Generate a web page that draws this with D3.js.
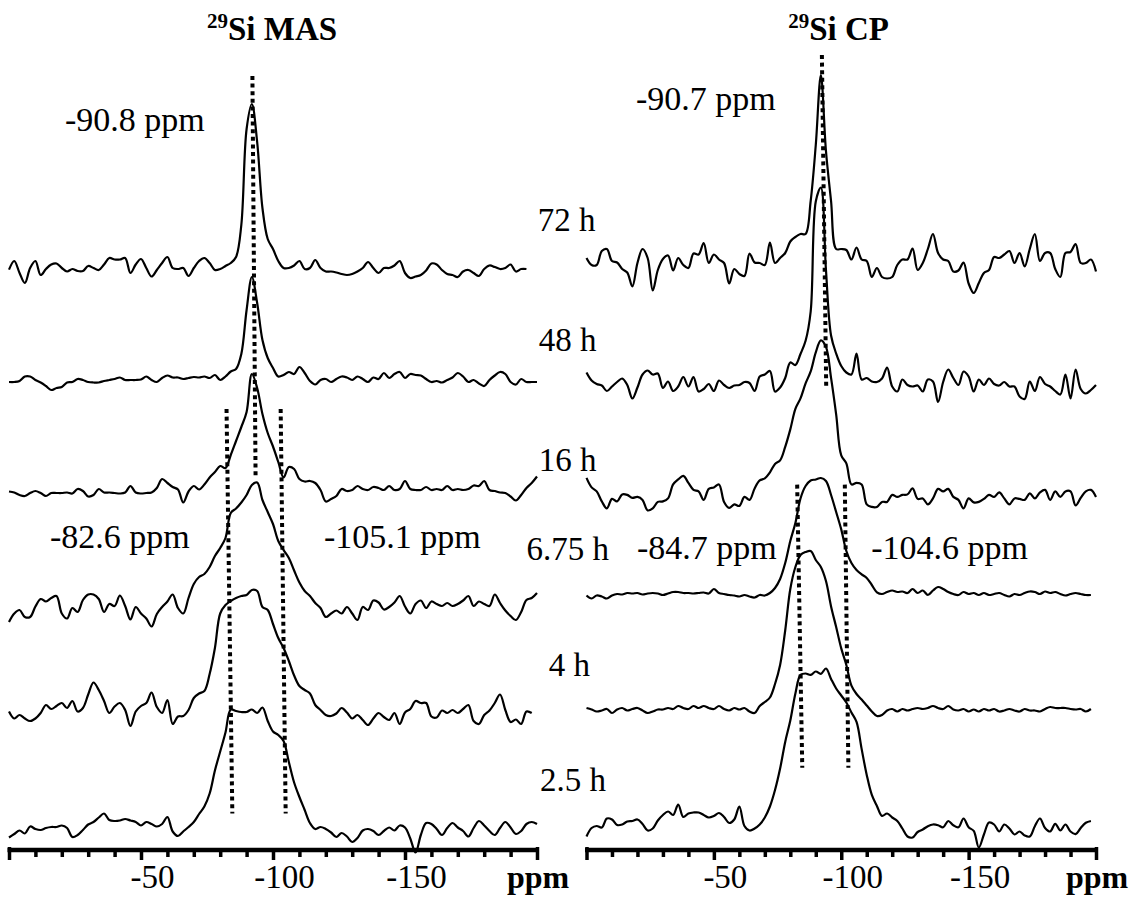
<!DOCTYPE html>
<html>
<head>
<meta charset="utf-8">
<script src="https://cdn.jsdelivr.net/npm/d3@7"></script>
<style>
  body { margin: 0; background: #fff; }
  svg { display: block; }
  text { font-family: "Liberation Serif", "Times New Roman", serif; fill: #000; }
</style>
</head>
<body>
<svg width="1144" height="897"></svg>
<script>
  // DATA
  var times = ["72 h", "48 h", "16 h", "6.75 h", "4 h", "2.5 h"];
  var ppmStep = -2; // every spectrum starts at 0 ppm, one point each 2 ppm

  // 29Si MAS spectra (intensity above each trace's own baseline)
  var mas72 = [-1.7,7,-5,-15,0,7,-7,-1,3.5,4.5, 0,-3.5,-1,-3,-3,2,0,-2,3.5,10, 8.5,8.5,10,-5,3.5,9,0,-8.5,-2,5,
    11,0,-1,0,-8,0,7,10,5,-2, -1,2,5,11,43,139,164,126,60,29, 19,7,0,0,2.5,7,-1,0,8,0,
    -3.5,-3.5,-4.5,-6,-7,-6,-3.5,0,6,0, -5,0,0,2.5,7,-5,-10,-8.5,-7,-2.5, 4.5,3.5,-2,-6,-7,-9,-3.5,-2,-5,-8,
    -1,2.5,1,-1,0,3.5,-3.5,-1,-1];
  var mas48 = [-2,-2,-1,3.5,3.5,0,-2.5,-6,-10,-8, -7,-2.5,-2,1,0,-2,-2.5,-2.5,-1,0, 1,2.5,0,0,0,0.5,3.5,0,-2,2,
    4.5,2.5,2.5,1,2,3,2.5,3.5,2,5, 0,3.5,8.5,11,26,70,103,77,40,22, 12,3.5,5,8,6,13,7,-1,-4.5,0,
    1,-2,1,3.5,2.5,0,3.5,1,-2,2.5, 1,7,2,6,8,2,6,5,4.5,1, -2,-1,-2.5,0,2.5,7,3.5,-2,0,-3.5,
    -6,0,4.5,8,6,-2,-4.5,1,-2,-2,-2];
  var mas16 = [1.5,0.5,-2,-3,0,2,0,-3,0,0, 0,0.5,-0.5,4,2,-3.5,-2,4,0.5,0.5, 0,-0.5,0.5,7,0.5,-0.5,0,0.5,5,14,
    10,6,3.5,-9.5,1.5,7,3.5,8.5,15.5,21, 27,25,38,52,66,81,119,105,79,60, 46.5,31,15.5,26,24,14,11.5,12,10,3,
    -8.5,-6,-3,4,2,3,7,4,3,6, 5,3,7,3,4,12,4,3,3,6, 3,4,3,7,3,4,3,4,7.5,7,
    12,3,2,0.5,0,-3.5,-7.5,-2,5,10,16.5];
  var mas675 = [-12,-3.5,0,-7,-7,3.5,11,8.5,12,14, -3.5,-8.5,2,-2,10,15.5,15.5,11,-2,6, 4,14.5,4,-9.5,3,-3.5,-8.5,-16.5,-4,3,
    8.5,15.5,2,-3.5,12,26,33,36,43,54, 62,72,97,101.5,107.5,115,125,127.5,110,98, 86,69,60,52,39.5,27.5,19,14,7,2,
    -7,-3.5,-0.5,-3.5,3,-3.5,-10,3,0,9.5, 7.5,0.5,3,7.5,14,3.5,-3.5,6,9.5,2, 8.5,6,4,7,4,6,9.5,14,4,8.5,
    6,4,15.5,7,-0.5,-6,-10,-2,10,12,17];
  var mas4 = [3.5,-3.5,0,-3.5,-6,-3.5,2,10,6,9, 12,7,14,3.5,7,20.5,32.5,25,14,2, 8.5,12,5,-11,3.5,9,12,22.5,8,2,
    15,-9,-1.5,-1,5,17,21.5,24,41,67, 101.5,110,114,117,119,120,125,124,108,105, 91,77,67,54,39.5,29,25,21.5,10,5,
    0,-1,1.5,7,2.5,-3.5,0,-5,-10,-3.5, 2,-2,-5,2,-9,2.5,6,14,12,12, -1.5,-2.5,4.5,2,5,2,6,10,-6,-9,
    0,4.5,12,20.5,5,-7,-4.5,-9,3.5,2];
  var mas25 = [-7.5,-4,-0.5,-3.5,3.5,1,0,2,3,3, 4.5,2,-7,-5,0,5.5,8,12.5,16.5,10, 9,9.5,11,9.5,8,4.5,8,6,3.5,6,
    13,-1.5,-6,-1.5,3,8,16,23.5,36.5,59.5, 78.5,97.5,120.5,119,118,118,120.5,117,122.5,109, 98.5,95,89,68,47.5,33,20,7,1,3,
    1,-2.5,-7,-3,-6.5,-12,-8,-0.5,1,-1, -5,-1,2.5,-0.5,4.5,2.5,-8.5,-22.5,-5,7, 6,1,-5,2,7,2.5,-1,-6.5,2,9,
    4.5,-1,-5,2,8,2.5,-4,-1,6,8,6];

  // 29Si CP spectra
  var cp72 = [5,-2,-2,12,14,2,0.5,-6,-9.5,-23.5, 0,14,5,-27.5,-7,4,7.5,-7.5,5,-2, -5,9.5,8.5,20,0,8.5,3.5,0,-20.5,-6,
    -11,-13,9.5,0.5,0,-2,20.5,0,5,10, 21.5,26,29,29,62,118,188,112,62,14, 14,13,3.5,15.5,3.5,2,-14,-5,-14,-15.5,
    -14,-2,3.5,3.5,14.5,-7,0,14,29,10, 3.5,2,-8.5,-7.5,0.5,-20.5,-30,-20,-10,-7, 6,5,8.5,12,0,10,-3.5,14,29,2,
    10,10,-6,-14,10,11,19,0,0,3.5,-8.5];
  var cp48 = [14,6,2.5,1,-4.5,0,4.5,8,1.5,-12, -1,12,16,12,13,-1.5,5,-4.5,0,9.5, 0,9.5,-5,-2.5,2.5,-4.5,6,1.5,-1.5,1,
    1.5,4.5,3.5,-4.5,10,12,15.5,-5,-1,8.5, 24,21.5,32.5,45.7,75,185,199,116.5,51,33, 20.5,14,12,33,7,8.5,5,4.5,8,19,
    0,-5,7,1.5,0,1,-5,7,5,-15.5, 4.5,17,8.5,1.5,15,10,-5,7,1.5,8, 2.5,1,4.5,0,0,-10,-12.5,5,-4.5,9.5,
    2.5,0,-4.5,-8,12,-12,17,-2.5,-7,-3.5,1.5];
  var cp16 = [20.5,11,7,-3,-10,-0.5,-3,4,3.5,0.5, 1.5,-1.5,-12,-10,-3.5,-3,0,14,19,22.5, 15.5,8.5,7,-1.5,9.5,11,14,-3.5,-9.5,-6,
    -7.5,1.5,-1.5,10,18,20,26,34.5,38,51.5, 69,89.5,100,115,127,146,158,151.5,120.5,84, 43,35,14,15.5,14,-6,-8.5,-8.5,-3.5,-3.5,
    3.5,1.5,3.5,4,10,-0.5,0,-6,0,9.5, 7,9.5,1.5,-1.5,-10,0,-4,-3.5,-0.5,3.5, 1.5,6,0,-6,0,-0.5,-1.5,5,0,6,
    8.5,-1.5,7,1.5,7,7,-7,0.5,7,8.5,1.5];
  var cp675 = [-0.5,-3.5,-0.5,-1.5,-3.5,-0.5,1,0.5,2,1.5, 2,0.5,1.5,2,1.5,0,1.5,3,3,2, 2,1.5,2,2.5,1.5,6,2,1,0,-0.5,
    -1.5,0,-1.5,-2.5,0,-0.5,2,7,16,32, 54,72,96.5,109,114.5,115.5,117,114,100,83, 65.6,44,32,25,20.6,17,10,2.7,1,3,
    4.5,3,3.5,2,6,2,4.5,0,4.5,8, 6,3,1,0,3,1,2,0,2,0, 1,2,0,-1.5,1,0,2,3.5,3,1,
    3.5,2,3,1,-0.5,1,2,1,0,0];
  var cp4 = [1,-0.5,-2.5,-1.5,0,-4,-0.5,1,-1.5,0, 1,-1.5,-4,-2.5,-0.5,-0.5,1,0,3,1, 0,3,1,3,1,0,3,0,-1.5,1,
    -0.5,1,-2.5,-4,3,7,11.5,25,44,78.5, 120,142,154,157,158,149,142,128,102.6,82, 60.6,44,23.4,15,9.5,3.5,-2.5,-7,-6,-1.5,
    0,-2.5,0,-1.5,0,1,0,1,3,1, 0,3,-0.5,-1.5,0,-2.5,-0.5,-2.5,0,-1.5, 0,-2.5,-1.5,0,-1.5,-2.5,0,-1.5,-1.5,-2.5,
    0,2,1,1,1,0,-0.5,0,-2.5,0];
  var cp25 = [-12,-3.5,-1.5,-3,6,5,-0.5,0,3,3.5, 5,0.5,-6,-4,4,9.5,13,9.5,20,7.5, 11,12,12,9.5,7,8.5,11.5,7.5,1.5,5,
    18,-1.5,-6,-4,0,7,18,34.5,56,82.6, 104,131,149.6,151,149.6,153,150.6,156,145.6,136, 129,122,112,102.6,75.6,49.6,29.6,18.6,8.6,11,
    7,3.5,-4,-12,-13,-7.5,-5,-1.7,0,-0.7, -2.8,3.5,-0.7,-2.8,6,-2.8,-6.4,-23,-10,2, 0,-7,0,-4,-10,-7,-11,-12,-1.7,6,
    -3.5,-7,0.7,-6,0,-7,-9.6,-3.5,1.7,3.5];

  // baseline of each trace, counted up from the ppm axis
  var masOffsets = [582, 470, 357, 240, 135, 20];
  var cpOffsets = [587, 463.5, 351.6, 255, 141, 25.5];

  // dotted guide lines: ppm at top / bottom, height at top / bottom
  var masGuidePpm = [[-92.2, -93.4], [-82.4, -84.6], [-102.9, -104.8]];
  var masGuideSpan = [[774, 373], [441, 36.5], [441, 36.5]];
  var cpGuidePpm = [[-92.4, -94.1], [-82.7, -84.7], [-101.4, -102.8]];
  var cpGuideSpan = [[795, 462], [365.4, 82.2], [365.4, 82.2]];

  var masNotes = ["-90.8 ppm", "-82.6 ppm", "-105.1 ppm"];
  var masNotePos = [[-21.2, 719], [-15.5, 302], [-119.3, 302]];
  var cpNotes = ["-90.7 ppm", "-84.7 ppm", "-104.6 ppm"];
  var cpNotePos = [[-19.4, 740], [-19.8, 291.4], [-111.8, 291.4]];

  // time labels sit in the gap, right aligned on the CP scale
  var timePpm = [-3.5, -3.9, -3.9, -8.8, -1.4, -7.7];
  var timeLevel = [619.4, 499, 379, 290, 174, 59];

  var tickValues = d3.range(0, -201, -10);
  var tickLabels = [-50, -100, -150];

  // SETUP
  var svg = d3.select("svg"),
    axisY = 850;

  var y = d3.scaleLinear().domain([0, 850]).range([axisY, 0]);

  var panels = [
    { name: "MAS", range: [9, 537], spectra: [mas72, mas48, mas16, mas675, mas4, mas25], offsets: masOffsets,
      guidePpm: masGuidePpm, guideSpan: masGuideSpan, notes: masNotes, notePos: masNotePos, titlePpm: -75 },
    { name: "CP", range: [586.5, 1096], spectra: [cp72, cp48, cp16, cp675, cp4, cp25], offsets: cpOffsets,
      guidePpm: cpGuidePpm, guideSpan: cpGuideSpan, notes: cpNotes, notePos: cpNotePos, titlePpm: -79.2 }
  ];

  panels.forEach(function (p) {
    var x = d3.scaleLinear().domain([0, -200]).range(p.range);
    p.x = x;
    var g = svg.append("g").attr("class", "panel");

    // spectra
    p.spectra.forEach(function (s, i) {
      var line = d3.line()
        .curve(d3.curveCatmullRom.alpha(0.5))
        .x(function (d, j) { return x(j * ppmStep); })
        .y(function (d) { return y(p.offsets[i] + d); });
      g.append("path")
        .datum(s)
        .attr("fill", "none")
        .attr("stroke", "#000")
        .attr("stroke-width", 2.2)
        .attr("stroke-linejoin", "round")
        .attr("d", line);
    });

    // dotted guides
    g.selectAll(".guide")
      .data(p.guidePpm)
      .enter().append("line")
      .attr("class", "guide")
      .attr("x1", function (d) { return x(d[0]); })
      .attr("x2", function (d) { return x(d[1]); })
      .attr("y1", function (d, i) { return y(p.guideSpan[i][0]); })
      .attr("y2", function (d, i) { return y(p.guideSpan[i][1]); })
      .attr("stroke", "#000")
      .attr("stroke-width", 4)
      .attr("stroke-dasharray", "4,3.6");

    g.selectAll(".note")
      .data(p.notes)
      .enter().append("text")
      .attr("class", "note")
      .attr("x", function (d, i) { return x(p.notePos[i][0]); })
      .attr("y", function (d, i) { return y(p.notePos[i][1]); })
      .attr("font-size", 34)
      .text(function (d) { return d; });

    // title with superscript
    var t = g.append("text")
      .attr("x", x(p.titlePpm))
      .attr("y", y(810))
      .attr("font-weight", "bold")
      .attr("font-size", 33);
    t.append("tspan").attr("font-size", 21).attr("dy", -12).text("29");
    t.append("tspan").attr("dy", 12).text("Si " + p.name);

    // axis
    var ax = g.append("g")
      .attr("class", "axis")
      .attr("transform", "translate(0," + axisY + ")")
      .call(d3.axisBottom(x)
        .tickValues(tickValues)
        .tickSizeOuter(0)
        .tickFormat(function (d) { return tickLabels.indexOf(d) >= 0 ? d : ""; }));

    ax.select(".domain")
      .attr("stroke", "#000")
      .attr("stroke-width", 4.5)
      .attr("d", "M" + (p.range[0] - 1.5) + ",0H" + (p.range[1] + 1.5));
    ax.selectAll(".tick line")
      .attr("stroke", "#000")
      .attr("stroke-width", 3.5)
      .attr("y1", function (d) { return (d === 0 || d === -200) ? -3 : 0; })
      .attr("y2", function (d) { return (d % 50 === 0) ? 10 : 7; });
    ax.selectAll(".tick text")
      .attr("fill", "#000")
      .attr("font-family", "Liberation Serif, Times New Roman, serif")
      .attr("font-size", 33)
      .attr("dx", 11)
      .attr("dy", 0)
      .attr("y", 38);

    g.append("text")
      .attr("x", p.range[1] - 30)
      .attr("y", axisY + 38)
      .attr("font-weight", "bold")
      .attr("font-size", 32)
      .text("ppm");
  });

  // time labels
  svg.selectAll(".time")
    .data(times)
    .enter().append("text")
    .attr("class", "time")
    .attr("text-anchor", "end")
    .attr("x", function (d, i) { return panels[1].x(timePpm[i]); })
    .attr("y", function (d, i) { return y(timeLevel[i]); })
    .attr("font-size", 33)
    .text(function (d) { return d; });
</script>
</body>
</html>
